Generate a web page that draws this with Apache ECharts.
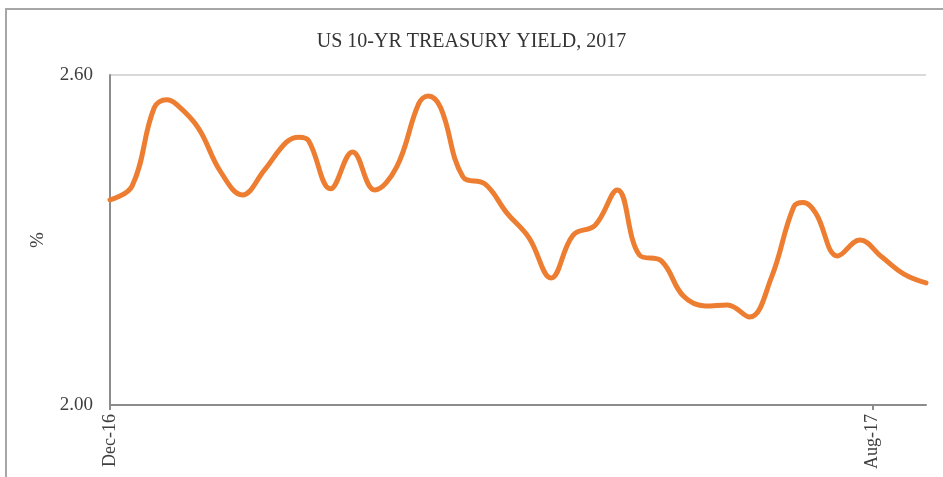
<!DOCTYPE html>
<html>
<head>
<meta charset="utf-8">
<script src="https://cdn.jsdelivr.net/npm/echarts@6/dist/echarts.min.js"></script>
<style>html,body{margin:0;padding:0;background:#fff;}#c{width:943px;height:477px;}</style>
</head>
<body>
<div id="c"></div>
<script>
const titleText = 'US 10-YR TREASURY YIELD, 2017';
const yAxisName = '%';
const obsDates = [
  '2016-12-02','2016-12-09','2016-12-16','2016-12-20','2016-12-23','2016-12-30',
  '2017-01-06','2017-01-13','2017-01-20','2017-01-27','2017-01-31',
  '2017-02-03','2017-02-10','2017-02-17','2017-02-24',
  '2017-03-03','2017-03-10','2017-03-13','2017-03-17','2017-03-24','2017-03-31',
  '2017-04-07','2017-04-14','2017-04-21','2017-04-28',
  '2017-05-05','2017-05-12','2017-05-19','2017-05-26',
  '2017-06-02','2017-06-09','2017-06-16','2017-06-23','2017-06-30',
  '2017-07-07','2017-07-10','2017-07-14','2017-07-21','2017-07-28',
  '2017-08-04','2017-08-11','2017-08-18'
];
const yields = [
  2.373, 2.398, 2.540, 2.555, 2.547, 2.504,
  2.425, 2.382, 2.427, 2.478, 2.487,
  2.481, 2.393, 2.460, 2.391,
  2.433, 2.548, 2.562, 2.540, 2.415, 2.402,
  2.349, 2.304, 2.231, 2.309,
  2.327, 2.391, 2.273, 2.262,
  2.198, 2.180, 2.182, 2.160, 2.233,
  2.360, 2.368, 2.349, 2.271, 2.300,
  2.269, 2.238, 2.222
];
const xTickDates = ['2016-12-02', '2017-08-01'];
const xTickLabels = ['Dec-16', 'Aug-17'];
const yTicks = [2.00, 2.60];

const chart = echarts.init(document.getElementById('c'), null, {renderer: 'canvas'});
const DAY = 86400000;
const toUtc = s => { const p = s.split('-').map(Number); return Date.UTC(p[0], p[1]-1, p[2]); };
const t0 = toUtc(obsDates[0]);
const toDay = s => Math.round((toUtc(s) - t0) / DAY);
const xTickDays = xTickDates.map(toDay);
const serif = '"Liberation Serif", "DejaVu Serif", serif';

chart.setOption({
  animation: false,
  backgroundColor: '#ffffff',
  graphic: [{
    type: 'rect',
    shape: {x: 6, y: 9, width: 1200, height: 1200},
    style: {fill: 'none', stroke: '#a6a6a6', lineWidth: 2},
    silent: true, z: -10
  }],
  title: {
    text: titleText,
    left: 'center',
    top: 27,
    textStyle: {fontFamily: serif, fontSize: 20, fontWeight: 'normal', color: '#333333'}
  },
  grid: {left: 110, right: 17, top: 75, bottom: 72},
  xAxis: {
    type: 'value',
    min: 0,
    max: toDay(obsDates[obsDates.length - 1]),
    axisLine: {lineStyle: {color: '#8c8c8c', width: 2}},
    axisTick: {show: true, customValues: xTickDays, length: 5, lineStyle: {color: '#8c8c8c', width: 2}},
    axisLabel: {
      customValues: xTickDays,
      rotate: 90,
      margin: 9,
      fontFamily: serif, fontSize: 18, color: '#404040',
      formatter: v => { const i = xTickDays.indexOf(v); return i >= 0 ? xTickLabels[i] : ''; }
    },
    splitLine: {show: false}
  },
  yAxis: {
    type: 'value',
    min: yTicks[0],
    max: yTicks[yTicks.length - 1],
    interval: 0.6,
    name: yAxisName,
    nameLocation: 'middle',
    nameGap: 62,
    nameRotate: 90,
    nameTextStyle: {fontFamily: serif, fontSize: 19, color: '#404040'},
    axisLine: {show: true, lineStyle: {color: '#8c8c8c', width: 2}},
    axisTick: {show: false},
    axisLabel: {fontFamily: serif, fontSize: 19, color: '#404040', margin: 17, formatter: v => v.toFixed(2)},
    splitLine: {show: true, lineStyle: {color: '#d9d9d9', width: 2}}
  },
  series: [{
    type: 'line',
    data: obsDates.map((d, i) => [toDay(d), yields[i]]),
    smooth: 0.4,
    showSymbol: false,
    lineStyle: {color: '#ED7D31', width: 5, cap: 'round'},
    itemStyle: {color: '#ED7D31'}
  }]
});
</script>
</body>
</html>
